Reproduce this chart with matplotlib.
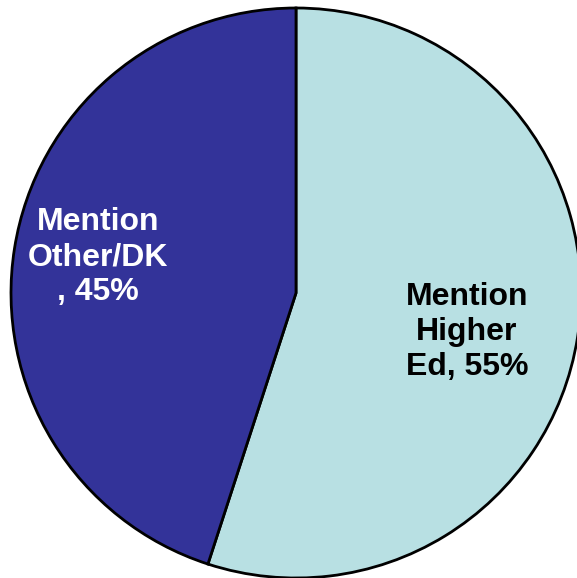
import matplotlib
matplotlib.use("Agg")
import matplotlib.pyplot as plt

labels = ["Mention\nHigher\nEd, 55%", "Mention\nOther/DK\n, 45%"]
values = [55, 45]
colors = ["#B8E0E3", "#333399"]
text_colors = ["black", "white"]

W, H = 577, 578
fig = plt.figure(figsize=(W/100, H/100), dpi=100)
cx, cy, r = 296, 293, 285
ax = fig.add_axes([(cx - r)/W, (H - cy - r)/H, 2*r/W, 2*r/H])
wedges, _ = ax.pie(values, colors=colors, startangle=90, counterclock=False,
                   radius=1.0, wedgeprops=dict(edgecolor="black", linewidth=2))
for w in wedges:
    w.set_clip_on(False)
ax.set_xlim(-1, 1)
ax.set_ylim(-1, 1)
ax.set_aspect("equal")
ax.axis("off")

pos = [(467, 332), (98, 257)]
for lab, (px, py), tc in zip(labels, pos, text_colors):
    fig.text(px/W, 1 - py/H, lab, ha="center", va="center", color=tc,
             fontsize=23, fontweight="bold", family="Liberation Sans",
             linespacing=1.22)

fig.savefig("out.png", dpi=100)
